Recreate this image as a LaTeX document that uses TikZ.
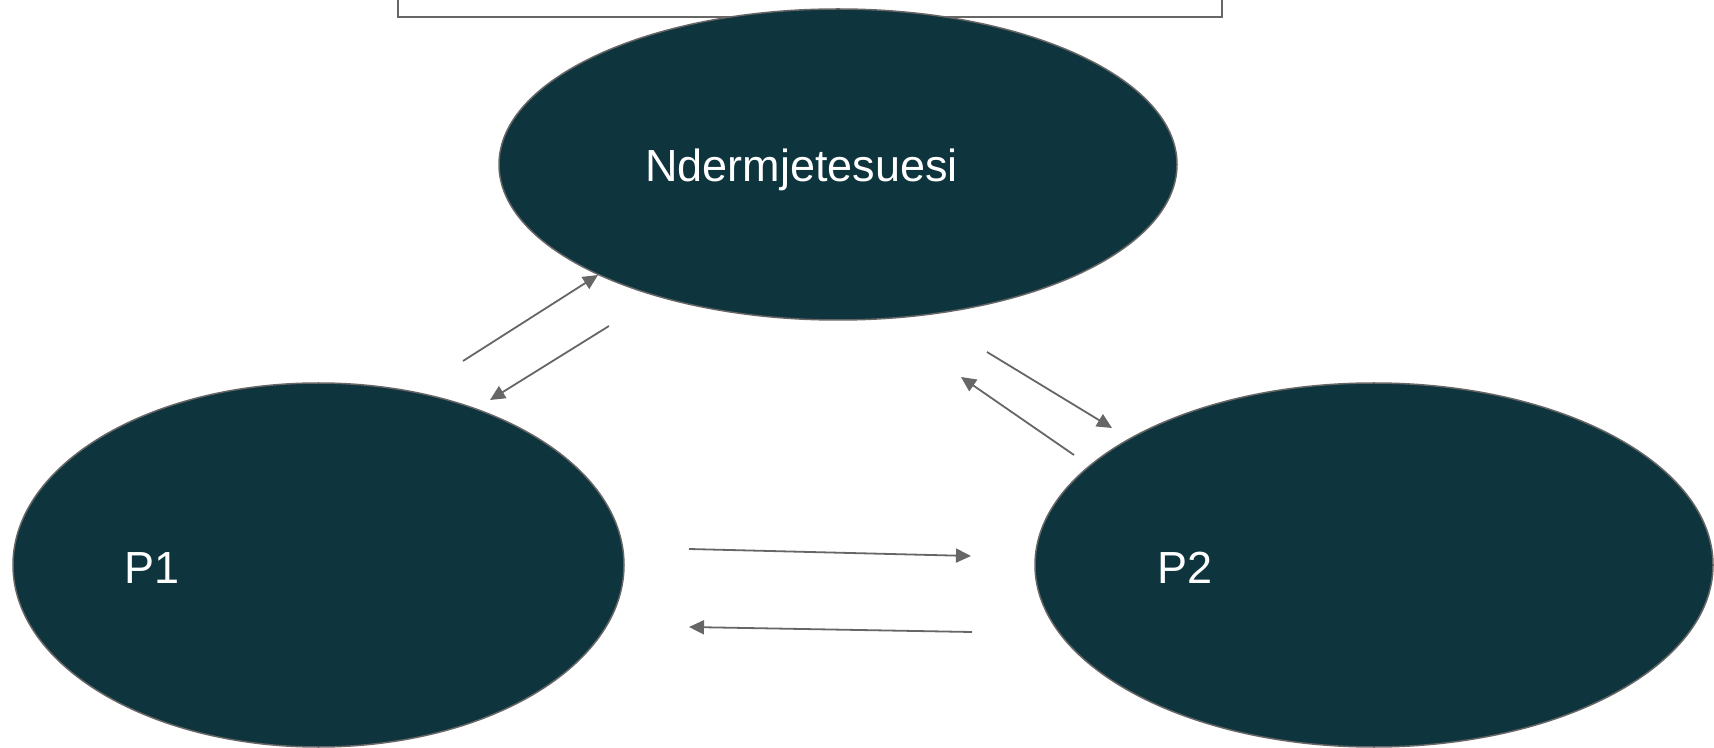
\documentclass[tikz,border=0pt]{standalone}
\usepackage{fontspec}
\setmainfont{Liberation Sans}
\usetikzlibrary{arrows.meta,shapes.geometric}

\definecolor{partyFill}{HTML}{0E343E}
\definecolor{lineGray}{HTML}{666666}

\begin{document}
\begin{tikzpicture}[x=0.5pt, y=-0.5pt,
		party/.style={ellipse, draw=lineGray, line width=0.75pt, fill=partyFill, inner sep=0pt, outer sep=0pt},
		label/.style={anchor=base west, text=white, inner sep=0pt, font=\fontsize{22.5}{26}\selectfont},
		msg/.style={draw=lineGray, line width=0.9pt, -{Triangle[length=7.5pt, width=7pt]}}]
		
		% --- Frame of the whole picture (1714 x 748 px) ---
		\useasboundingbox (0,0) rectangle (1714,748);
		
		% Open box at the top (its upper edge lies outside the picture)
		\draw[lineGray, line width=0.75pt] (398,0) -- (398,17) -- (1222,17) -- (1222,0);
		
		% --- The three parties ---
		\node[party, minimum width=339pt, minimum height=155.5pt] (mid) at (838,164.5) {};
		\node[party, minimum width=305.5pt, minimum height=182pt] (pOne) at (318.5,565) {};
		\node[party, minimum width=339pt, minimum height=182pt] (pTwo) at (1374,565) {};
		
		% Their names (set off to the left of each centre)
		\node[label] (midText) at (645,182) {Ndermjetesuesi};
		\node[label] (pOneText) at (124,583) {P1};
		\node[label] (pTwoText) at (1157,583) {P2};
		
		% --- End points of the messages ---
		\coordinate (oneUpS) at (463,361);   \coordinate (oneUpE) at (598,275);
		\coordinate (oneDnS) at (609,326);   \coordinate (oneDnE) at (490,400);
		\coordinate (twoDnS) at (987,352);   \coordinate (twoDnE) at (1112,428);
		\coordinate (twoUpS) at (1074,455);  \coordinate (twoUpE) at (961,377);
		\coordinate (oneTwoS) at (689,549);  \coordinate (oneTwoE) at (971,556);
		\coordinate (twoOneS) at (972,632);  \coordinate (twoOneE) at (689,627);
		
		% P1 <-> Ndermjetesuesi
		\draw[msg] (oneUpS) -- (oneUpE);
		\draw[msg] (oneDnS) -- (oneDnE);
		
		% Ndermjetesuesi <-> P2
		\draw[msg] (twoDnS) -- (twoDnE);
		\draw[msg] (twoUpS) -- (twoUpE);
		
		% P1 <-> P2
		\draw[msg] (oneTwoS) -- (oneTwoE);
		\draw[msg] (twoOneS) -- (twoOneE);
		
	\end{tikzpicture}
\end{document}
